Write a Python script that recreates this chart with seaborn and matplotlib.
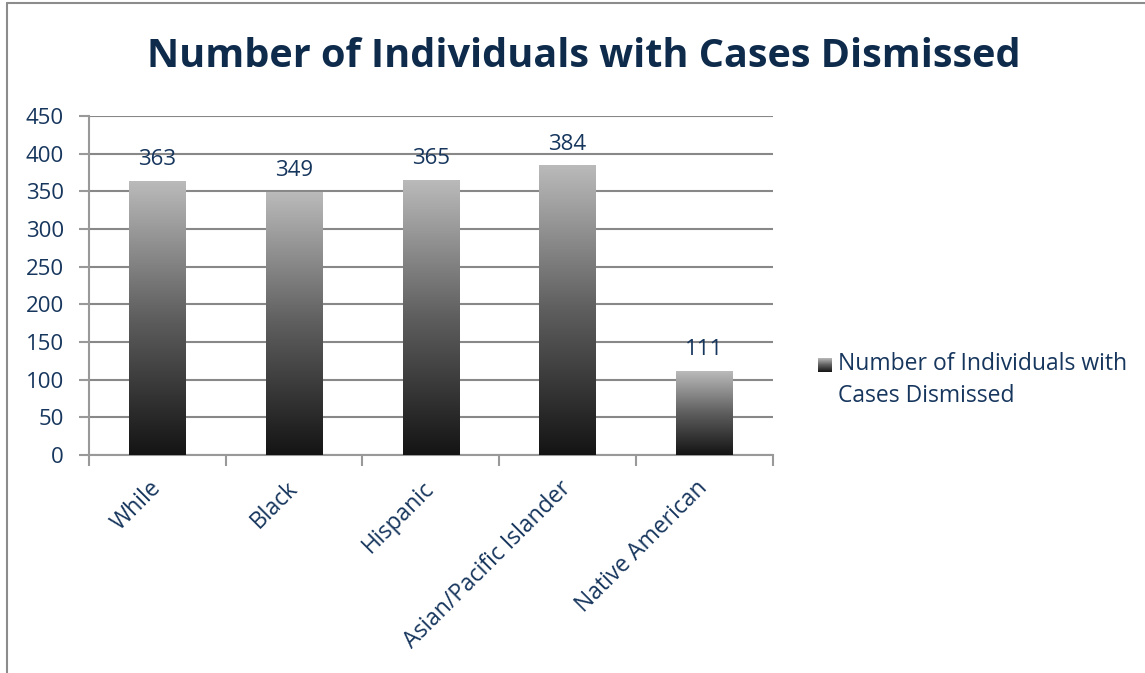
import numpy as np
import pandas as pd
import matplotlib
matplotlib.use("Agg")
import matplotlib.pyplot as plt
import seaborn as sns
from matplotlib.colors import LinearSegmentedColormap
from matplotlib.lines import Line2D

# -----------------------------
# DATA
# -----------------------------

CATEGORIES = ["While", "Black", "Hispanic", "Asian/Pacific Islander", "Native American"]
COUNTS = [363, 349, 365, 384, 111]
SERIES_NAME = "Number of Individuals with\nCases Dismissed"
TITLE = "Number of Individuals with Cases Dismissed"
Y_TICKS = [0, 50, 100, 150, 200, 250, 300, 350, 400, 450]

TEXT_COLOR = "#17365D"
TITLE_COLOR = "#0F2B4C"
GRID_COLOR = "#888888"

# -----------------------------
# PLOT
# -----------------------------

sns.set_style("white")
plt.rcParams["font.family"] = ["Open Sans", "DejaVu Sans"]

fig = plt.figure(figsize=(11.45, 6.73), dpi=100)
ax = fig.add_axes([0.0777, 0.324, 0.597, 0.5037])

df = pd.DataFrame({"group": CATEGORIES, "count": COUNTS})
sns.barplot(data=df, x="group", y="count", color="#888888", width=0.41,
            ax=ax, zorder=2)

# vertical gradient fill, light on top, black at the bottom
grad = np.linspace(0, 1, 256).reshape(-1, 1)
cmap = LinearSegmentedColormap.from_list("bar", ["#141414", "#5e5e5e", "#bababa"])
for bar in ax.patches:
    x0, y0 = bar.get_x(), bar.get_y()
    w, h = bar.get_width(), bar.get_height()
    ax.imshow(grad, cmap=cmap, extent=[x0, x0 + w, y0, y0 + h],
              origin="lower", aspect="auto", zorder=3)
    bar.set_alpha(0)

ax.bar_label(ax.containers[0], labels=[str(v) for v in COUNTS], padding=8,
             fontsize=16, color=TEXT_COLOR)

ax.set_xlim(-0.5, len(CATEGORIES) - 0.5)
ax.set_ylim(0, 450)
ax.set_yticks(Y_TICKS)
ax.set_xlabel("")
ax.set_ylabel("")

ax.grid(axis="y", color=GRID_COLOR, linewidth=1.5, zorder=0)
ax.set_axisbelow(True)
for side in ["top", "right"]:
    ax.spines[side].set_visible(False)
for side in ["left", "bottom"]:
    ax.spines[side].set_color("#999999")
    ax.spines[side].set_linewidth(1.5)

ax.tick_params(axis="y", left=True, length=7, width=1.5, color="#999999",
               labelsize=16, labelcolor=TEXT_COLOR, pad=11)
ax.set_xticks(np.arange(-0.5, len(CATEGORIES)), minor=True)
ax.tick_params(axis="x", which="minor", bottom=True, length=8, width=1.5,
               color="#999999")
ax.tick_params(axis="x", which="major", bottom=False, labelsize=16.5,
               labelcolor=TEXT_COLOR, pad=18)
plt.setp(ax.get_xticklabels(), rotation=45, ha="right", va="center",
         rotation_mode="anchor")

# title
fig.text(0.51, 0.916, TITLE, ha="center", va="center", fontsize=28.5,
         fontweight="bold", color=TITLE_COLOR)

# legend: gradient swatch + text
lax = fig.add_axes([818 / 1145, 1 - 372 / 673, 14 / 1145, 14 / 673])
lax.imshow(grad, cmap=cmap, origin="lower", aspect="auto")
lax.axis("off")
fig.text(838 / 1145, 1 - 380 / 673, SERIES_NAME, ha="left", va="center",
         fontsize=16.5, color=TEXT_COLOR, linespacing=1.5)

# chart area border
fig.add_artist(Line2D([7 / 1145, 7 / 1145], [0, 1 - 3 / 673],
                      transform=fig.transFigure, color="#8c8c8c", lw=1.5))
fig.add_artist(Line2D([7 / 1145, 1], [1 - 3 / 673, 1 - 3 / 673],
                      transform=fig.transFigure, color="#8c8c8c", lw=1.5))

fig.savefig("out.png", dpi=100)
plt.close(fig)
